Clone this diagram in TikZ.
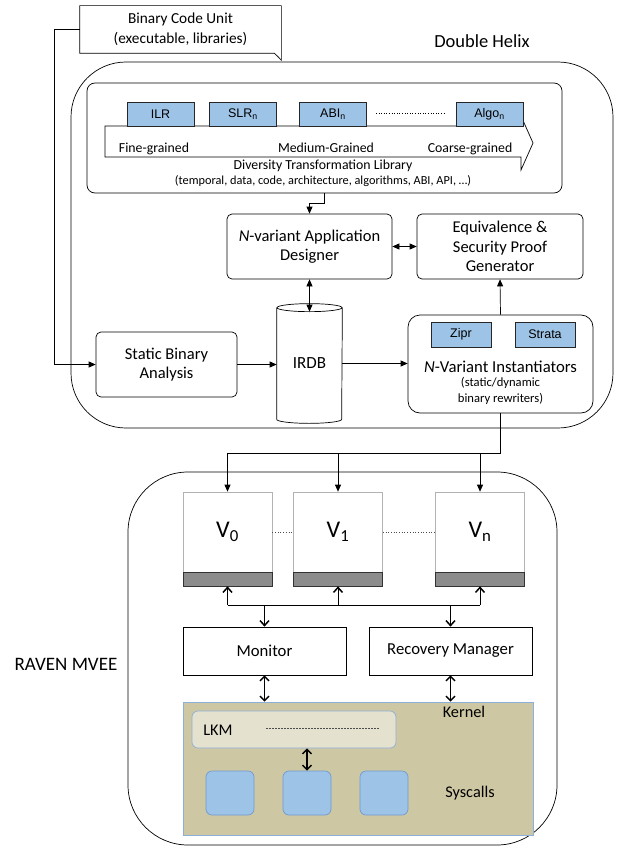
\documentclass[tikz,border=0pt]{standalone}
\usepackage{fontspec}
\setmainfont{Carlito}
\newfontfamily\arialf{Liberation Sans}
\usetikzlibrary{arrows.meta,calc}
\definecolor{blueF}{HTML}{9DC3E6}
\definecolor{kernF}{HTML}{CEC7A3}
\definecolor{kernB}{HTML}{8DB0DA}
\definecolor{lkmF}{HTML}{E4E1CF}
\definecolor{sysB}{HTML}{6F9BD0}
\definecolor{barF}{HTML}{8C8C8C}
\tikzset{
  rbox/.style={draw, rounded corners=5pt, fill=white, align=center, inner sep=1pt, font=\fontsize{16.5}{19.5}\selectfont},
  bluebox/.style={draw=black!85, fill=blueF, line width=0.9pt, inner sep=0pt, minimum width=67pt, minimum height=24pt, font=\arialf\fontsize{12.5}{14}\selectfont},
  arr/.style={-{Triangle[length=7pt,width=6pt]}},
  darr/.style={{Triangle[length=7pt,width=6pt]}-{Triangle[length=7pt,width=6pt]}},
  barb/.style={-{Straight Barb[length=5pt,width=9pt,line width=1.5pt]}, line width=0.8pt},
  dbarb/.style={{Straight Barb[length=4.5pt,width=9pt,line width=1.5pt]}-{Straight Barb[length=4.5pt,width=9pt,line width=1.5pt]}, line width=1.2pt},
  vbox/.style={draw=black!30, fill=white, minimum width=89pt, minimum height=80pt, inner sep=0pt, font=\fontsize{24}{26}\selectfont},
  vbar/.style={draw=black!80, fill=barF, minimum width=89pt, minimum height=14pt, inner sep=0pt},
  sbox/.style={draw, fill=white, minimum width=163pt, minimum height=48pt, inner sep=0pt, font=\fontsize{16.7}{19}\selectfont},
  sysc/.style={draw=sysB, fill=blueF, rounded corners=6pt, minimum width=48pt, minimum height=44pt, inner sep=0pt},
  lbl/.style={inner sep=0pt},
  grain/.style={inner sep=0pt, anchor=base, font=\fontsize{13.8}{15}\selectfont}
}
\begin{document}
\begin{tikzpicture}[x=1pt,y=-1pt, line width=0.7pt]
\useasboundingbox (0,0) rectangle (621,848);
\fill[white] (0,0) rectangle (621,848);

% big containers
\node[draw, rounded corners=55pt, minimum width=542pt, minimum height=366pt, inner sep=0pt] (dh) at (342,245) {};
\node[lbl, font=\fontsize{18.5}{21}\selectfont] (dhl) at (482,41) {Double Helix};
\node[draw, rounded corners=60pt, minimum width=429pt, minimum height=373pt, inner sep=0pt] (raven) at (342.5,658.5) {};
\node[lbl, font=\fontsize{19}{21}\selectfont] (ravl) at (66,664) {RAVEN MVEE};

% binary code unit
\node[inner sep=0pt, minimum width=201pt, minimum height=47pt, align=center, font=\fontsize{15.3}{20}\selectfont] (bcu) at (180.5,29.5) {Binary Code Unit\\(executable, libraries)};
\draw (bcu.north west) -- (bcu.north east) -- ([yshift=-7pt]bcu.south east) -- ([xshift=-7pt]bcu.south east) -- (bcu.south west) -- cycle;
\fill[black!70] ([yshift=-7pt]bcu.south east) -- ([xshift=-7pt]bcu.south east) -- ([xshift=-3pt,yshift=-3pt]bcu.south east) -- cycle;

% diversity library
\node[draw, rounded corners=8pt, minimum width=475pt, minimum height=110pt, inner sep=0pt] (dtl) at (324.5,138) {};
\draw (105,126) -- (521,126) -- (521,116) -- (533,143) -- (521,170) -- (521,157) -- (105,157) -- cycle;
\node[bluebox] (ilr) at (160.5,114) {ILR};
\node[bluebox] (slr) at (243,114) {SLR\textsubscript{n}};
\node[bluebox] (abi) at (333,114) {ABI\textsubscript{n}};
\node[bluebox] (algo) at (489.5,114) {Algo\textsubscript{n}};
\draw[dotted, line width=0.6pt] ([xshift=9pt,yshift=1pt]abi.east) -- ([xshift=-11pt,yshift=1pt]algo.west);
\node[grain] (fg) at (154,152.5) {Fine-grained};
\node[grain] (mg) at (326,152.5) {Medium-Grained};
\node[grain] (cg) at (470,152.5) {Coarse-grained};
\node[lbl, font=\fontsize{13.8}{15}\selectfont] (dtlt) at (323,166) {Diversity Transformation Library};
\node[lbl, font=\fontsize{12.3}{13}\selectfont] (dtls) at (323,181) {(temporal, data, code, architecture, algorithms, ABI, API, \dots)};

% middle
\node[rbox, minimum width=165pt, minimum height=65pt] (des) at (309.5,246.5) {\textit{N}-variant Application\\Designer};
\node[rbox, minimum width=166pt, minimum height=65pt] (eq) at (500,246.5) {Equivalence \&\\Security Proof\\Generator};
\node[rbox, minimum width=141pt, minimum height=65pt] (sba) at (166.5,364.5) {Static Binary\\Analysis};
\node[inner sep=0pt, minimum width=65pt, minimum height=103pt] (irdb) at (309.5,363.5) {};
\draw[fill=white] ([yshift=4pt]irdb.north west) -- ([yshift=-4pt]irdb.south west) arc[start angle=180,end angle=360,x radius=32.5pt,y radius=4pt] -- ([yshift=4pt]irdb.north east);
\draw ([yshift=4pt]irdb.north) ellipse [x radius=32.5pt, y radius=4pt];
\node[lbl, font=\fontsize{17}{19}\selectfont] (irdbl) at (irdb) {IRDB};
\node[draw, rounded corners=12pt, minimum width=185pt, minimum height=98pt, inner sep=0pt] (inst) at (500.5,364) {};
\node[bluebox, minimum width=60pt, minimum height=25pt] (zipr) at (461,334.5) {Zipr};
\node[bluebox, minimum width=60pt, minimum height=25pt] (strata) at (545,334.5) {Strata};
\node[lbl, font=\fontsize{16.7}{19}\selectfont] (instt) at (500.5,367) {\textit{N}-Variant Instantiators};
\node[lbl, font=\fontsize{12.6}{15.5}\selectfont, align=center] (insts) at (500.5,391) {(static/dynamic\\binary rewriters)};

% connectors top
\draw[arr] (bcu.west) -- ++(-25,0) |- (sba.west);
\draw[arr] (dtl.south) -- ++(0,10) -| (des.north);
\draw[darr] (des.east) -- (eq.west);
\draw[darr] (des.south) -- (irdb.north);
\draw[arr] (inst.north) -- (eq.south);
\draw[arr] (sba.east) -- (sba.east -| irdb.west);
\draw[arr] (irdb.east) -- (irdb.east -| inst.west);

% variants
\node[vbox] (v0) at (227.5,532) {V\textsubscript{0}};
\node[vbox] (v1) at (338,532) {V\textsubscript{1}};
\node[vbox] (vn) at (480,532) {V\textsubscript{n}};
\node[vbar] (b0) at (227.5,579) {};
\node[vbar] (b1) at (338,579) {};
\node[vbar] (bn) at (480,579) {};
\draw[dotted, black!70] (v0.east) -- (v1.west);
\draw[dotted, black!70] (v1.east) -- (vn.west);

\path (inst.south) ++(0,40) coordinate (bus);
\draw[line width=1.8pt] (inst.south) -- (bus);
\draw[line width=1.2pt] (bus) -- (bus -| v0.north);
\draw[arr] (bus -| v0.north) -- (v0.north);
\draw[arr] (bus -| v1.north) -- (v1.north);
\draw[arr] (bus -| vn.north) -- (vn.north);

% monitor etc
\node[sbox] (mon) at (264.5,651) {Monitor};
\node[sbox] (rec) at (450.5,651) {Recovery Manager};
\coordinate (lbus) at (227.5,605);
\draw (lbus) -- (lbus -| bn.south);
\draw[barb] (lbus) -- (b0.south);
\draw[barb] (lbus -| b1.south) -- (b1.south);
\draw[barb] (lbus -| bn.south) -- (bn.south);
\draw[barb] (lbus -| mon.north) -- (mon.north);
\draw[barb] (lbus -| rec.north) -- (rec.north);

% kernel
\node[draw=kernB, fill=kernF, minimum width=350pt, minimum height=133pt, inner sep=0pt] (kern) at (358,768.5) {};
\node[lbl, font=\fontsize{16.3}{18}\selectfont] (kernl) at (464,712) {Kernel};
\node[draw=kernB, fill=lkmF, rounded corners=6pt, minimum width=204pt, minimum height=37pt, inner sep=0pt] (lkm) at (294,729.5) {};
\node[lbl, font=\fontsize{16.3}{18}\selectfont] (lkml) at (218,730) {LKM};
\draw[dashed, dash pattern=on 2pt off 1pt, black!70, line width=0.5pt] (266,728) -- (379,728);
\node[sysc] (s1) at (230,793) {};
\node[sysc] (s2) at (307,793) {};
\node[sysc] (s3) at (384,793) {};
\node[lbl, font=\fontsize{16.3}{18}\selectfont] (sysl) at (470,793) {Syscalls};
\draw[dbarb] (mon.south) -- (mon.south |- kern.north);
\draw[dbarb] (rec.south) -- (rec.south |- kern.north);
\draw[dbarb] (lkm.south -| s2.north) -- (s2.north);
\end{tikzpicture}
\end{document}
